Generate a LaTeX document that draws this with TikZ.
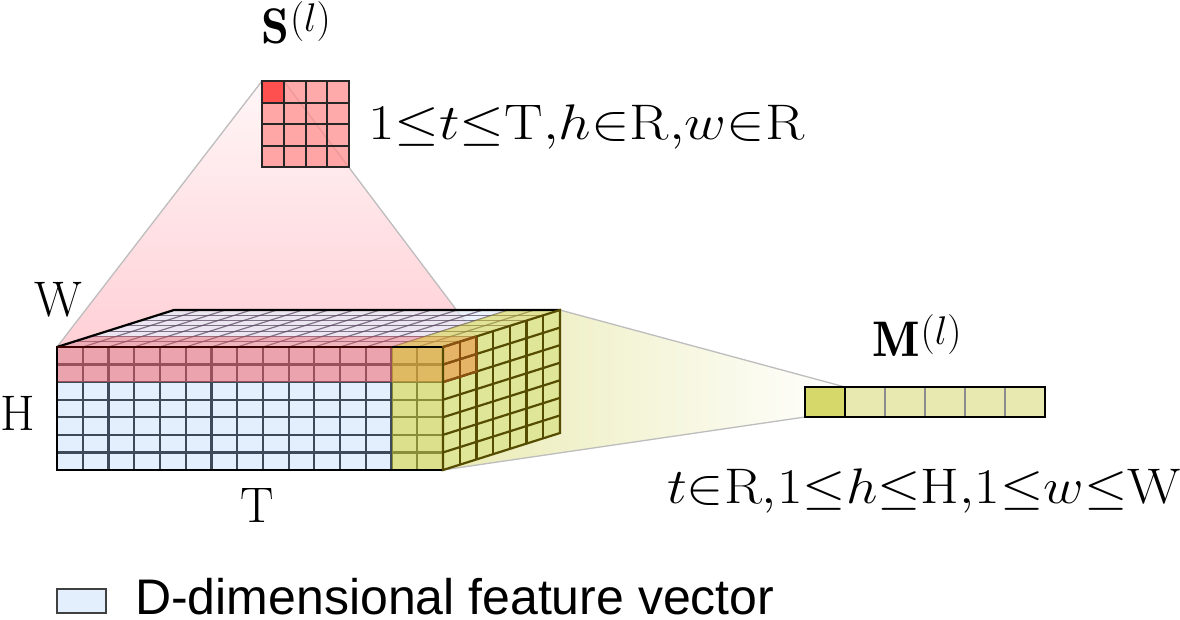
\RequirePackage{fix-cm}
\documentclass[tikz,border=0pt]{standalone}
\usepackage{fontspec}
\usepackage{graphicx}
\newfontfamily\legendfont{Liberation Sans}
\usetikzlibrary{calc}
\definecolor{cubeblue}{HTML}{E3EFFC}
\definecolor{gridDark}{HTML}{3C4A5A}
\definecolor{redov}{HTML}{F4595F}
\definecolor{yelov}{HTML}{D6D11B}
\definecolor{sideyel}{HTML}{DFE697}
\definecolor{sideorange}{HTML}{E6B466}
\definecolor{sideline}{HTML}{554C00}
\definecolor{sideoline}{HTML}{8A5010}
\definecolor{fanPinkTop}{HTML}{FFF6F7}
\definecolor{fanPinkBot}{HTML}{FFD0D6}
\definecolor{fanYel}{HTML}{EAEBB4}
\definecolor{fanGray}{HTML}{BDBDBD}
\definecolor{spink}{HTML}{FF8E8E}
\definecolor{sred}{HTML}{FF3333}
\definecolor{mfirst}{HTML}{D6D86A}
\definecolor{mrest}{HTML}{E8E9B0}
\definecolor{topline}{HTML}{5A4A62}
\tikzset{
  fanline/.style={draw=fanGray, line width=1.3pt},
  frontgrid/.style={draw=gridDark, line width=2.2pt},
  topgrid/.style={draw=topline, line width=1.2pt, draw opacity=0.75},
  sidegrid/.style={draw=sideline, line width=2.2pt},
  sideogrid/.style={draw=sideoline, line width=2.2pt},
  outline/.style={draw=black, line width=2.2pt},
  sgrid/.style={draw=black!85, line width=2pt},
  mathlabel/.style={inner sep=0pt, font=\fontsize{50}{58}\selectfont},
}
\newcommand{\tightm}{\thickmuskip=0mu\medmuskip=0mu\thinmuskip=0mu}
\newcommand{\supl}{\raisebox{12pt}{\fontsize{40}{48}\selectfont$(l)$}}
\begin{document}
\begin{tikzpicture}[x=1pt,y=-1pt]
\useasboundingbox (0,0) rectangle (1180,619);
% key points
\coordinate (F1) at (57,347);
\coordinate (F2) at (443,347);
\coordinate (F3) at (443,470);
\coordinate (F4) at (57,470);
\coordinate (B1) at (174,310);
\coordinate (B2) at (560,310);
\coordinate (B3) at (560,433);
\coordinate (Rtop) at (476.43,336.43);
\coordinate (Rback) at (90.43,336.43);
\coordinate (Sa) at (262,81);
\coordinate (Sb) at (283.75,81);
\coordinate (Ma) at (845,387);
\coordinate (Mb) at (805,417);

% red fan
\shade[top color=fanPinkTop, bottom color=fanPinkBot] (Sa) -- (Sb) -- (Rtop) -- (F1) -- cycle;
\draw[fanline] (Sa) -- (F1);
\draw[fanline] (Sb) -- (Rtop);
% yellow fan
\shade[left color=fanYel, right color=white] (B2) -- (Ma) -- (Mb) -- (F3) -- cycle;
\draw[fanline] (B2) -- (Ma);
\draw[fanline] (F3) -- (Mb);

% top face
\fill[cubeblue, fill opacity=0.7] (F1) -- (F2) -- (B2) -- (B1) -- cycle;
\foreach \i in {1,...,14} \draw[topgrid] (57+\i*25.7333,347) -- ++(117,-37);
\foreach \k in {1,...,6} \draw[topgrid] (57+\k*16.7143,347-\k*5.2857) -- ++(386,0);
\fill[redov, fill opacity=0.4] (F1) -- (F2) -- (Rtop) -- (Rback) -- cycle;
\fill[yelov, fill opacity=0.45] (391.53,347) -- (F2) -- (B2) -- (508.53,310) -- cycle;
\draw[outline] (F1) -- (B1) -- (B2);

% front face
\fill[cubeblue] (F1) rectangle (F3);
\foreach \i in {1,...,14} \draw[frontgrid] (57+\i*25.7333,347) -- ++(0,123);
\foreach \j in {1,...,6} \draw[frontgrid] (57,347+\j*17.5714) -- ++(386,0);
\fill[redov, fill opacity=0.5] (F1) rectangle (443,382.14);
\fill[yelov, fill opacity=0.5] (391.53,347) rectangle (F3);
\draw[outline] (F1) rectangle (F3);
\draw[draw=black!60!red!60!black, line width=2.2pt] (F1) -- (391.53,347);

% side face
\fill[sideyel] (F2) -- (B2) -- (B3) -- (F3) -- cycle;
\fill[sideorange] (F2) -- (Rtop) -- (476.43,371.57) -- (443,382.14) -- cycle;
\foreach \k in {1,...,6} \draw[sidegrid] (443+\k*16.7143,347-\k*5.2857) -- ++(0,123);
\foreach \j in {1,...,6} \draw[sidegrid] (443,347+\j*17.5714) -- ++(117,-37);
\draw[sideogrid] (459.71,341.71) -- ++(0,35.14);
\draw[sideogrid] (443,364.57) -- ++(33.43,-10.57);
\draw[sideogrid] (Rtop) -- ++(0,35.14) -- (443,382.14);
\draw[draw=sideline, line width=2.2pt] (F2) -- (B2) -- (B3) -- (F3) -- cycle;
\draw[draw=sideoline, line width=2.2pt] (F2) -- (Rtop);

% S box
\fill[spink, fill opacity=0.75] (262,81) rectangle (349,167);
\fill[sred, fill opacity=0.75] (262,81) rectangle (283.75,102.5);
\foreach \i in {1,2,3} \draw[sgrid] (262+\i*21.75,81) -- ++(0,86);
\foreach \j in {1,2,3} \draw[sgrid] (262,81+\j*21.5) -- ++(87,0);
\draw[sgrid] (262,81) rectangle (349,167);

% M box
\fill[mfirst] (805,387) rectangle (845,417);
\fill[mrest] (845,387) rectangle (1045,417);
\foreach \i in {2,...,5} \draw[draw=black!45, line width=1.3pt] (805+\i*40,387) -- ++(0,30);
\draw[draw=black, line width=1.6pt] (845,387) -- (845,417);
\draw[draw=black, line width=1.7pt] (805,387) rectangle (1045,417);

% labels
\node[mathlabel, anchor=base west] (Slab) at (261,43) {$\mathbf{S}$\kern1pt\supl};
\node[mathlabel, anchor=base west] (Scond) at (368,139) {\scalebox{1.153}[1]{$\tightm 1\leq t\leq \mathrm{T},h\in \mathrm{R},w\in \mathrm{R}$}};
\node[mathlabel, anchor=base west] (Mlab) at (872,356) {$\mathbf{M}$\kern1pt\supl};
\node[mathlabel, anchor=base west] (Mcond) at (667,503) {\scalebox{1.115}[1]{$\tightm t\in \mathrm{R},1\leq h\leq \mathrm{H},1\leq w\leq \mathrm{W}$}};
\node[mathlabel] (Wlab) at (58,300) {W};
\node[mathlabel] (Hlab) at (18,413) {H};
\node[mathlabel] (Tlab) at (257,505) {T};

% legend
\node[draw=black!75, line width=1.3pt, fill=cubeblue, minimum width=49pt, minimum height=24pt, inner sep=0pt] (legbox) at (81.5,601) {};
\node[anchor=west, inner sep=0pt, text height=36pt, text depth=0pt, font=\legendfont\fontsize{50}{56}\selectfont] (legtext) at (135,596) {D-dimensional feature vector};
\end{tikzpicture}
\end{document}
